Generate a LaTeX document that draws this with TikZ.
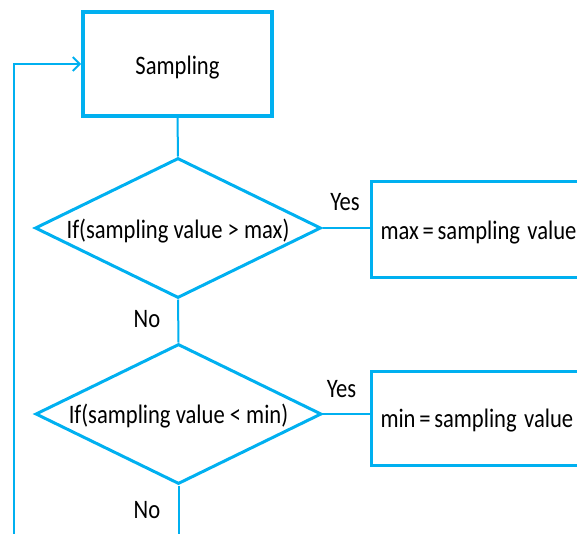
\documentclass[tikz,border=0pt]{standalone}
\usepackage{fontspec}
\usepackage{graphicx}
\setmainfont{Carlito}
\usetikzlibrary{shapes.geometric,arrows.meta}
\definecolor{flow}{HTML}{00B0F0}
\newcommand\mytightsp{\spaceskip=3.7pt\relax}
\newcommand\mytall[1]{\scalebox{1}[1.18]{#1}}
\newcommand\mydown[2]{\raisebox{-#1}[0pt][0pt]{\mytall{#2}}}
\begin{document}
\begin{tikzpicture}[x=1pt,y=-1pt,
  font=\fontsize{22.6}{26}\selectfont,
  procbox/.style={draw=flow, line width=3.6pt, rectangle, inner sep=0pt},
  decision/.style={draw=flow, line width=3pt, diamond, aspect=2.05, inner sep=0pt, minimum width=286pt, minimum height=140pt},
  assign/.style={draw=flow, line width=3pt, rectangle, inner xsep=9pt, inner ysep=0pt},
  conn/.style={draw=flow, line width=2pt},
  lbl/.style={inner sep=0pt, anchor=base}
]
\useasboundingbox (0,0) rectangle (577,533);
\clip (0,0) rectangle (577,533);

\node[procbox, minimum width=189pt, minimum height=104pt] (samp) at (177.5,64) {\mydown{10pt}{Sampling}};
\node[decision] (d1) at (178,228) {\mydown{10pt}{If(sampling value > max)}};
\node[decision] (d2) at (178.5,414) {\mydown{9pt}{If(sampling value < min)}};
\node[assign, anchor=north west, minimum height=96pt] (bmax) at (370,180) {\mydown{10pt}{\makebox[215pt][l]{\mytightsp max = sampling\ \ value}}};
\node[assign, anchor=north west, minimum height=94pt] (bmin) at (370,370) {\mydown{9pt}{\makebox[215pt][l]{\mytightsp min = sampling\ \ value}}};

\coordinate (bot) at (178.5,545);
\coordinate (loopb) at (14,545);

\draw[conn] (samp.south) -- (d1.north);
\draw[conn] (d1.east) -- (d1.east -| bmax.west);
\draw[conn] (d2.east) -- (d2.east -| bmin.west);
\draw[conn] (d1.south) -- (d2.north);
\draw[conn] (d2.south) -- (bot);
\draw[conn, -{Straight Barb[length=7pt,width=14pt,line width=2pt]}] (loopb) |- (samp.west);

\node[lbl] (yes1) at (345,210) {\mytall{Yes}};
\node[lbl] (yes2) at (341.5,397) {\mytall{Yes}};
\node[lbl] (no1) at (147,327) {\mytall{No}};
\node[lbl] (no2) at (147,518) {\mytall{No}};
\end{tikzpicture}
\end{document}
